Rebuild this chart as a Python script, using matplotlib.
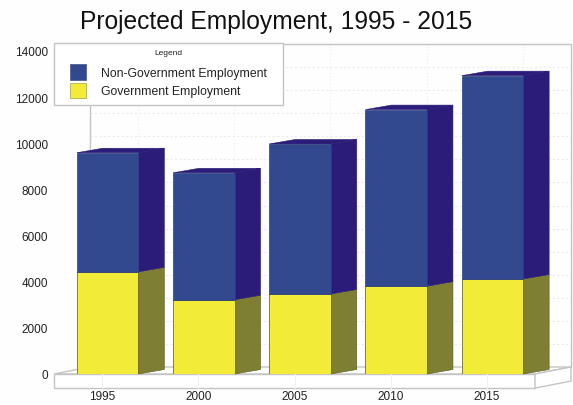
import matplotlib
matplotlib.use("Agg")
import matplotlib.pyplot as plt
from matplotlib.patches import Polygon, Rectangle, Patch

years = ["1995", "2000", "2005", "2010", "2015"]
government = [4430, 3220, 3470, 3810, 4120]
total = [9590, 8720, 9970, 11460, 12930]
y_ticks = [0, 2000, 4000, 6000, 8000, 10000, 12000, 14000]
grid_levels = list(range(0, 15000, 1000))

BLUE = "#33498f"
BLUE_SIDE = "#2a1c78"
YELLOW = "#f2ec38"
YELLOW_SIDE = "#7f7f33"
FRAME = "#c4c4c4"
GRID = "#ebebeb"
TEXT = "#222222"

W, H = 573, 406
plt.rcParams["font.family"] = ["Liberation Sans", "DejaVu Sans"]
fig = plt.figure(figsize=(W / 100, H / 100), dpi=100, facecolor="#fefefe")
ax = fig.add_axes([54 / W, 1 - 375 / H, (535 - 54) / W, (375 - 52) / H])
ax.set_facecolor("none")
ax.set_xlim(-0.5, 4.5)
ax.set_ylim(0, 14000)
for s in ax.spines.values():
    s.set_visible(False)

# Projection of the back wall and of the bar bodies, in data units
wall_dx, wall_dy = 0.374, 303
bar_dx, bar_dy = 0.27, 195
bar_w = 0.64
bar_shift = 0.057
slab = -610
x0, x1 = -0.5, 4.5


def face(points, fc, ec="none", lw=0.0, z=3):
    ax.add_patch(Polygon(points, closed=True, fc=fc, ec=ec, lw=lw, zorder=z, clip_on=False))


# Floor slab
face([(x0, 0), (x0 + wall_dx, wall_dy), (x1 + wall_dx, wall_dy), (x1, 0)], "#ffffff", FRAME, 1.0, 1)
face([(x0, 0), (x1, 0), (x1, slab), (x0, slab)], "#ffffff", FRAME, 1.0, 1)
face([(x1, 0), (x1 + wall_dx, wall_dy), (x1 + wall_dx, wall_dy + slab), (x1, slab)], "#ffffff", FRAME, 1.0, 1)

# Back wall grid and frame
for lv in grid_levels[1:-1]:
    ax.plot([x0 + wall_dx, x1 + wall_dx], [lv + wall_dy] * 2, color=GRID, lw=0.8,
            ls=(0, (2, 2)), zorder=0.5, clip_on=False)
for i in range(5):
    ax.plot([i + wall_dx] * 2, [wall_dy, 14000 + wall_dy], color=GRID, lw=0.8,
            ls=(0, (1, 2)), zorder=0.5, clip_on=False)
    ax.plot([i, i], [0, slab], color="#efefef", lw=0.7, zorder=1.5, clip_on=False)
    ax.plot([i, i + wall_dx], [0, wall_dy], color="#efefef", lw=0.7, zorder=1.5, clip_on=False)
ax.plot([x0 + wall_dx, x0 + wall_dx, x1 + wall_dx, x1 + wall_dx],
        [wall_dy, 14000 + wall_dy, 14000 + wall_dy, wall_dy],
        color=FRAME, lw=1.0, zorder=0.8, clip_on=False)

# Stacked bars: front faces, right sides and top
for i, (gov, tot) in enumerate(zip(government, total)):
    left = i + bar_shift - bar_w / 2
    right = left + bar_w
    ax.bar(i + bar_shift, gov, bar_w, color=YELLOW, edgecolor="#55551f", linewidth=0.5, zorder=4)
    ax.bar(i + bar_shift, tot - gov, bar_w, bottom=gov, color=BLUE, edgecolor="#2c3c7a",
           linewidth=0.5, zorder=4)
    rx, ddx = right, bar_dx
    face([(rx, 0), (rx + ddx, bar_dy), (rx + ddx, gov + bar_dy), (rx, gov)], YELLOW_SIDE, "#55551f", 0.4)
    face([(rx, gov), (rx + ddx, gov + bar_dy), (rx + ddx, tot + bar_dy), (rx, tot)], BLUE_SIDE, BLUE_SIDE, 0.4)
    face([(left, tot), (left + ddx, tot + bar_dy), (rx + ddx, tot + bar_dy), (rx, tot)], BLUE_SIDE, BLUE_SIDE, 0.4)

ax.set_yticks(y_ticks)
ax.set_yticklabels([str(t) for t in y_ticks], fontsize=8.5, color=TEXT)
ax.set_xticks(range(5))
ax.set_xticklabels(years, fontsize=8.5, color=TEXT)
ax.tick_params(axis="y", length=0, pad=4.5)
ax.tick_params(axis="x", length=0, pad=11.5)

# Legend frame with the key laid on top of it
ax.add_patch(Rectangle((x0, 11640), 2.38, 2700, fc="#ffffff", ec=FRAME, lw=1.0, zorder=5, clip_on=False))
handles = [Patch(fc=BLUE, ec="#2c3c7a", lw=0.4), Patch(fc=YELLOW, ec="#8a8a30", lw=0.4)]
leg = ax.legend(handles, ["Non-Government Employment", "Government Employment"],
                title="Legend", title_fontsize=6, fontsize=8.8, frameon=False,
                loc="upper left", bbox_to_anchor=((70 - 54) / 481, 1.006),
                borderaxespad=0, borderpad=0.0, handlelength=1.3, handleheight=1.6,
                handletextpad=1.25, labelspacing=0.2, labelcolor=TEXT)
leg._legend_box.sep = 6
leg.get_title().set_color(TEXT)
leg.set_zorder(6)

fig.text(276 / W, 1 - 22 / H, "Projected Employment, 1995 - 2015", fontsize=17.7,
         color="#111111", ha="center", va="center")

fig.savefig("out.png", dpi=100, facecolor=fig.get_facecolor())
